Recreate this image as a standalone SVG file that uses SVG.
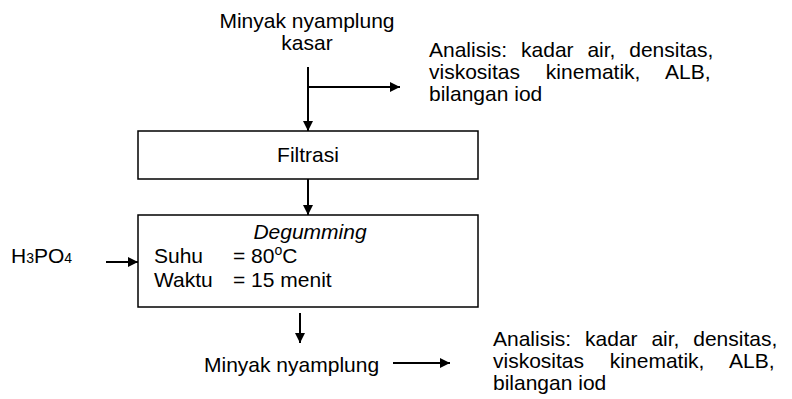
<svg xmlns="http://www.w3.org/2000/svg" width="792" height="399" viewBox="0 0 792 399">
<style>
text{font-family:"Liberation Sans",Arial,sans-serif;font-size:21px;fill:#000}
.box{fill:#fff;stroke:#000;stroke-width:1.5}
.ln{stroke:#000;stroke-width:2;fill:none}
</style>
<defs>
<marker id="ah" viewBox="0 0 10 10" refX="10" refY="5" markerWidth="5" markerHeight="5" markerUnits="strokeWidth" orient="auto"><path d="M0,0L10,5L0,10z" fill="#000"/></marker>
</defs>
<rect width="792" height="399" fill="#fff"/>
<g id="input">
<text text-anchor="middle"><tspan x="307" y="28">Minyak nyamplung</tspan><tspan x="307" y="50">kasar</tspan></text>
</g>
<g id="analisis1">
<text><tspan x="429" y="57" word-spacing="8">Analisis: kadar air, densitas,</tspan><tspan x="429" y="79" word-spacing="20">viskositas kinematik, ALB,</tspan><tspan x="429" y="101">bilangan iod</tspan></text>
</g>
<g id="filtrasi">
<rect class="box" x="138" y="131" width="340" height="48"/>
<text x="308" y="162" text-anchor="middle">Filtrasi</text>
</g>
<g id="degumming">
<rect class="box" x="138" y="215" width="340" height="92"/>
<text><tspan x="310" y="239" text-anchor="middle" font-style="italic">Degumming</tspan><tspan x="154" y="263">Suhu</tspan><tspan x="233" y="263">= 80</tspan><tspan dy="-8" font-size="14">o</tspan><tspan dy="8">C</tspan><tspan x="154" y="287">Waktu</tspan><tspan x="233" y="287">= 15 menit</tspan></text>
</g>
<g id="h3po4">
<text x="11" y="263">H<tspan font-size="14">3</tspan>PO<tspan font-size="14">4</tspan></text>
</g>
<g id="output">
<text x="204" y="372">Minyak nyamplung</text>
</g>
<g id="analisis2">
<text><tspan x="493" y="346" word-spacing="8">Analisis: kadar air, densitas,</tspan><tspan x="493" y="368" word-spacing="20">viskositas kinematik, ALB,</tspan><tspan x="493" y="390">bilangan iod</tspan></text>
</g>
<g id="connectors">
<path class="ln" d="M308,67V131" marker-end="url(#ah)"/>
<path class="ln" d="M308,87H400" marker-end="url(#ah)"/>
<path class="ln" d="M308,179V215" marker-end="url(#ah)"/>
<path class="ln" d="M106,262H138" marker-end="url(#ah)"/>
<path class="ln" d="M300,313V343" marker-end="url(#ah)"/>
<path class="ln" d="M393,363H450" marker-end="url(#ah)"/>
</g>
</svg>
